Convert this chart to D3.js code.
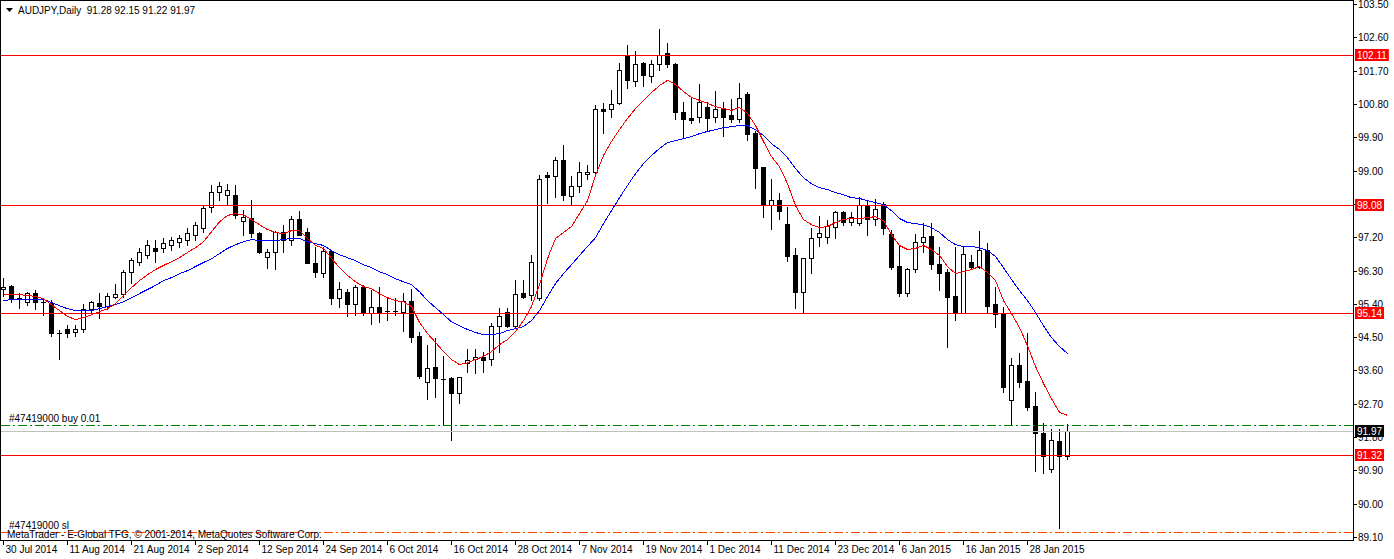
<!DOCTYPE html>
<html lang="en">
<head>
<meta charset="UTF-8">
<title>AUDJPY,Daily</title>
<script src="https://d3js.org/d3.v7.min.js"></script>
<style>
  body { margin: 0; background: #fff; }
  svg { display: block; font-family: "Liberation Sans", Arial, sans-serif; font-size: 10px; }
  .wick { stroke: #000; stroke-width: 1; }
  .body { stroke: #000; stroke-width: 1; shape-rendering: crispEdges; }
  .ma { fill: none; stroke-width: 1; shape-rendering: crispEdges; }
  .title { white-space: pre; }
</style>
</head>
<body>
<div id="chart"></div>
<script>
// daily bars, 30 Jul 2014 .. 3 Feb 2015
var openP = [95.80,95.88,95.56,95.45,95.69,95.45,95.42,94.61,94.72,94.64,
  94.72,95.26,95.42,95.34,95.58,95.66,96.26,96.53,96.72,96.91,
  96.91,96.99,97.07,97.12,97.26,97.45,98.01,98.42,98.34,98.34,
  97.64,97.72,97.31,96.66,96.80,97.34,97.12,97.69,97.34,96.50,
  96.23,96.82,95.55,95.72,95.39,95.85,95.15,95.31,95.21,95.20,
  95.18,95.47,94.53,93.28,93.69,93.37,93.39,92.99,93.80,93.91,
  93.96,93.91,94.80,95.18,94.80,95.69,95.64,95.55,98.88,98.85,
  99.28,98.31,98.58,98.91,98.96,100.66,100.66,100.82,102.10,101.42,
  101.91,101.56,101.88,102.18,101.88,100.58,100.42,100.45,100.72,100.45,
  100.69,100.50,100.39,101.07,100.01,99.10,98.07,98.20,97.55,96.72,
  95.72,96.64,97.20,97.20,97.47,97.88,97.61,97.58,98.07,97.69,
  98.09,97.28,96.42,95.69,96.34,97.07,97.23,96.47,96.26,95.61,
  95.15,96.53,96.39,96.85,95.39,95.15,92.80,93.74,93.31,92.64,
  91.91,90.93,91.69,91.28];
var highP = [96.09,95.91,95.69,95.72,95.77,95.55,95.50,94.69,94.82,94.82,
  95.39,95.47,95.69,95.69,95.93,96.31,96.63,96.91,97.12,97.12,
  97.17,97.20,97.26,97.45,97.61,98.07,98.61,98.69,98.64,98.61,
  97.93,98.20,97.34,96.88,97.36,97.53,97.77,97.90,97.45,96.93,
  96.93,96.85,95.99,95.80,95.91,95.91,95.77,95.85,95.55,95.55,
  95.69,95.80,94.64,94.28,94.47,93.99,93.41,93.42,94.18,94.18,
  94.10,94.88,95.28,95.28,96.04,96.04,96.72,98.88,98.96,99.36,
  99.69,98.85,99.23,99.15,100.77,100.82,101.18,101.90,102.39,102.23,
  101.93,101.99,102.82,102.45,101.90,100.85,100.99,101.34,100.85,101.15,
  100.85,100.93,101.36,101.12,100.07,99.10,98.77,98.39,98.01,96.91,
  96.64,97.45,97.77,97.66,97.90,97.90,97.88,98.28,98.18,98.23,
  98.15,97.39,96.96,96.36,97.28,97.58,97.58,96.93,96.34,96.93,
  96.93,96.72,97.36,97.04,95.85,95.31,93.93,94.07,94.61,93.01,
  92.18,92.01,92.01,92.15];
var lowP = [95.61,95.45,95.28,95.36,95.26,95.09,94.53,93.91,94.50,94.53,
  94.64,95.18,95.01,95.26,95.55,95.58,95.96,96.45,96.63,96.53,
  96.80,96.85,96.93,96.99,97.12,97.34,97.88,98.20,98.07,97.72,
  97.26,97.20,96.78,96.36,96.34,96.80,96.99,97.26,96.50,96.12,
  96.12,95.39,95.31,95.07,95.09,95.09,94.85,94.91,94.96,95.09,
  94.66,94.37,93.39,92.83,92.88,92.12,91.72,92.72,93.55,93.53,
  93.55,93.74,94.10,94.77,94.74,95.55,95.50,95.50,98.12,98.28,
  98.20,98.07,98.42,98.77,98.93,100.01,100.45,100.80,101.23,101.29,
  101.29,101.39,101.72,101.80,100.39,99.88,100.28,100.31,100.09,100.31,
  99.93,100.31,100.31,99.83,98.53,97.75,97.42,97.69,96.55,95.28,
  95.15,96.23,96.96,97.04,97.18,97.53,97.53,97.53,97.26,97.53,
  97.28,96.34,95.61,95.61,96.26,96.80,96.34,95.77,94.23,94.96,
  95.15,96.36,96.36,95.18,94.77,93.01,92.12,93.15,92.53,90.88,
  90.83,90.85,89.34,91.22];
var closeP = [95.85,95.55,95.55,95.69,95.45,95.44,94.61,94.62,94.61,94.72,
  95.26,95.45,95.34,95.61,95.66,96.26,96.58,96.80,96.99,96.82,
  97.04,97.12,97.18,97.31,97.53,97.99,98.42,98.58,98.47,97.80,
  97.75,97.31,96.80,96.80,97.34,97.12,97.69,97.26,96.50,96.26,
  96.82,95.55,95.80,95.39,95.85,95.15,95.31,95.15,95.20,95.21,
  95.47,94.50,93.45,93.66,93.39,93.36,92.99,93.42,93.88,93.96,
  93.88,94.80,95.07,94.80,95.66,95.58,96.53,98.77,98.82,99.28,
  98.34,98.58,98.96,98.96,100.66,100.61,100.80,101.72,101.45,101.88,
  101.58,101.88,102.12,101.88,100.58,100.39,100.36,100.85,100.42,100.66,
  100.45,100.39,100.96,99.99,99.07,98.07,98.20,97.91,96.69,95.72,
  96.64,97.18,97.31,97.50,97.88,97.61,97.74,98.07,97.69,97.96,
  97.45,96.39,95.69,96.34,97.07,97.20,96.47,96.23,95.58,95.15,
  96.74,96.39,96.85,95.34,95.12,93.15,93.74,93.28,92.61,91.91,
  91.29,91.72,91.29,91.97];

// moving averages as plotted (red = fast, blue = slow)
var maFast = [95.66,95.66,95.66,95.64,95.61,95.55,95.39,95.23,95.07,94.99,
  95.04,95.12,95.20,95.28,95.42,95.64,95.85,96.04,96.20,96.34,
  96.45,96.55,96.66,96.80,96.93,97.09,97.36,97.63,97.80,97.85,
  97.82,97.69,97.55,97.42,97.34,97.31,97.39,97.39,97.18,96.99,
  96.91,96.64,96.39,96.18,96.01,95.88,95.82,95.69,95.58,95.50,
  95.47,95.34,94.91,94.61,94.37,94.12,93.91,93.77,93.82,93.91,
  93.99,94.12,94.31,94.45,94.66,94.96,95.34,95.93,96.63,97.18,
  97.34,97.50,97.85,98.20,98.88,99.42,99.80,100.12,100.42,100.69,
  100.91,101.12,101.31,101.45,101.34,101.15,100.99,100.91,100.83,100.74,
  100.69,100.64,100.72,100.56,100.23,99.80,99.39,99.12,98.66,98.07,
  97.69,97.55,97.47,97.50,97.61,97.69,97.72,97.72,97.74,97.77,
  97.66,97.28,96.99,96.88,96.91,96.99,96.88,96.72,96.42,96.23,
  96.28,96.34,96.42,96.26,96.04,95.50,95.15,94.77,94.28,93.72,
  93.26,92.85,92.48,92.40];
var maSlow = [95.50,95.53,95.53,95.53,95.53,95.53,95.45,95.36,95.28,95.23,
  95.23,95.23,95.28,95.34,95.39,95.47,95.58,95.69,95.80,95.91,
  96.04,96.12,96.23,96.31,96.42,96.53,96.63,96.77,96.91,97.01,
  97.09,97.15,97.12,97.12,97.12,97.15,97.18,97.18,97.09,97.04,
  96.99,96.85,96.74,96.66,96.58,96.47,96.39,96.28,96.20,96.09,
  96.01,95.93,95.74,95.50,95.31,95.12,94.93,94.82,94.72,94.64,
  94.58,94.58,94.61,94.69,94.74,94.80,94.96,95.23,95.61,95.96,
  96.23,96.47,96.72,96.96,97.20,97.58,97.93,98.28,98.61,98.93,
  99.20,99.42,99.61,99.77,99.82,99.88,99.93,100.01,100.07,100.12,
  100.17,100.20,100.23,100.23,100.12,99.96,99.74,99.58,99.36,99.07,
  98.82,98.66,98.55,98.50,98.42,98.36,98.28,98.26,98.20,98.15,
  98.09,97.93,97.72,97.61,97.58,97.55,97.47,97.34,97.15,97.01,
  96.96,96.96,96.93,96.85,96.69,96.39,96.07,95.77,95.50,95.18,
  94.82,94.50,94.26,94.07];

var dateLabels = ["30 Jul 2014","11 Aug 2014","21 Aug 2014","2 Sep 2014","12 Sep 2014",
  "24 Sep 2014","6 Oct 2014","16 Oct 2014","28 Oct 2014","7 Nov 2014","19 Nov 2014",
  "1 Dec 2014","11 Dec 2014","23 Dec 2014","6 Jan 2015","16 Jan 2015","28 Jan 2015"];
var dateLabelBars = [0,8,16,24,32,40,48,56,64,72,80,88,96,104,112,120,128];
var priceTicks = [103.50,102.60,101.70,100.80,99.90,99.00,98.10,97.20,96.30,95.40,
  94.50,93.60,92.70,91.80,90.90,90.00,89.10];
var redLevels = [102.11, 98.08, 95.14, 91.32];
var bidPrice = 91.97;
var orderPrice = 92.12;
var stopPrice = 89.23;

var W = 1394, H = 559;
var axisX = 1353, axisY = 540;

var svg = d3.select("#chart").append("svg")
    .attr("width", W)
    .attr("height", H);

var x = d3.scaleLinear().domain([0, openP.length - 1]).range([3, 3 + 8 * (openP.length - 1)]);
var y = d3.scaleLinear().domain([89.10, 103.50]).range([537, 4]);
function px(i) { return Math.round(x(i)) + 0.5; }
function py(v) { return Math.round(y(v)) + 0.5; }

var bars = d3.range(openP.length).map(function (i) {
    return { i: i, o: openP[i], h: highP[i], l: lowP[i], c: closeP[i] };
});

// frame
svg.append("rect").attr("x", 0).attr("y", 0).attr("width", 1).attr("height", axisY).style("fill", "#000");
svg.append("rect").attr("x", 0).attr("y", 0).attr("width", axisX).attr("height", 1).style("fill", "#000");

var plot = svg.append("g");

// candles
plot.selectAll(".wick").data(bars).enter().append("line")
    .attr("class", "wick")
    .attr("x1", function (d) { return px(d.i); })
    .attr("x2", function (d) { return px(d.i); })
    .attr("y1", function (d) { return Math.round(y(d.h)); })
    .attr("y2", function (d) { return Math.round(y(d.l)) + 1; });

bars.forEach(function (d) {
    var top = py(Math.max(d.o, d.c)), bot = py(Math.min(d.o, d.c));
    if (bot - top < 1) {
        plot.append("line").attr("class", "wick")
            .attr("x1", px(d.i) - 2.5).attr("x2", px(d.i) + 2.5)
            .attr("y1", top).attr("y2", top)
            .style("shape-rendering", "crispEdges");
    } else {
        plot.append("rect").attr("class", "body")
            .attr("x", px(d.i) - 2)
            .attr("y", top)
            .attr("width", 4)
            .attr("height", bot - top)
            .style("fill", d.c >= d.o ? "#fff" : "#000");
    }
});

// horizontal levels: solid ones as 1px filled strips, dash-dot ones as lines
function solidLevel(v, color) {
    plot.append("rect")
        .attr("x", 1).attr("y", Math.round(y(v)))
        .attr("width", axisX - 1).attr("height", 1)
        .style("fill", color);
}
function dashLevel(v, color) {
    plot.append("line")
        .attr("x1", 1).attr("x2", axisX)
        .attr("y1", py(v)).attr("y2", py(v))
        .style("stroke", color)
        .style("stroke-width", 1)
        .style("stroke-dasharray", "9,3,2,3");
}
redLevels.forEach(function (v) { solidLevel(v, "#ff0000"); });
solidLevel(bidPrice, "#c0c0c0");
dashLevel(orderPrice, "#008000");
dashLevel(stopPrice, "#ff4500");

// moving averages
var maLine = d3.line()
    .x(function (d, i) { return x(i) + 0.5; })
    .y(function (d) { return y(d) + 0.5; });
plot.append("path").attr("class", "ma").style("stroke", "#0000ff").attr("d", maLine(maSlow));
plot.append("path").attr("class", "ma").style("stroke", "#ff0000").attr("d", maLine(maFast));

// texts in the plot
svg.append("path").attr("d", "M6,8 L13,8 L9.5,12 Z").style("fill", "#000");
svg.append("text").attr("class", "title").attr("x", 18).attr("y", 14)
    .text("AUDJPY,Daily  91.28 92.15 91.22 91.97");
svg.append("text").attr("x", 9).attr("y", 422).text("#47419000 buy 0.01");
svg.append("text").attr("x", 9).attr("y", 529).text("#47419000 sl");
svg.append("text").attr("x", 7).attr("y", 538)
    .text("MetaTrader - E-Global TFG, \u00a9 2001-2014, MetaQuotes Software Corp.");

// right price axis
svg.append("rect").attr("x", axisX).attr("y", 0).attr("width", 1).attr("height", axisY + 1).style("fill", "#000");
var yAxis = svg.append("g").attr("transform", "translate(" + (axisX + 1) + ",0)");
priceTicks.forEach(function (v) {
    yAxis.append("rect").attr("x", 0).attr("y", Math.round(y(v))).attr("width", 3).attr("height", 1)
        .style("fill", "#000");
    yAxis.append("text").attr("x", 4).attr("y", py(v) + 3.5).text(d3.format(".2f")(v));
});

function priceBox(v, color) {
    var g = svg.append("g");
    var t = g.append("text").attr("x", axisX + 4).attr("y", py(v) + 3.5)
        .style("fill", "#fff").text(d3.format(".2f")(v));
    var w = t.node().getComputedTextLength();
    g.insert("rect", "text").attr("x", axisX + 2).attr("y", Math.round(y(v)) - 6)
        .attr("width", w + 4).attr("height", 12).style("fill", color);
}
redLevels.forEach(function (v) { priceBox(v, "#ff0000"); });
priceBox(bidPrice, "#000");

// bottom time axis
svg.append("rect").attr("x", 0).attr("y", axisY).attr("width", axisX + 1).attr("height", 1).style("fill", "#000");
dateLabelBars.forEach(function (b, k) {
    svg.append("rect").attr("x", Math.round(x(b))).attr("y", axisY).attr("width", 1).attr("height", 5)
        .style("fill", "#000");
    svg.append("text").attr("x", px(b) + 2).attr("y", 553).text(dateLabels[k]);
});
</script>
</body>
</html>
